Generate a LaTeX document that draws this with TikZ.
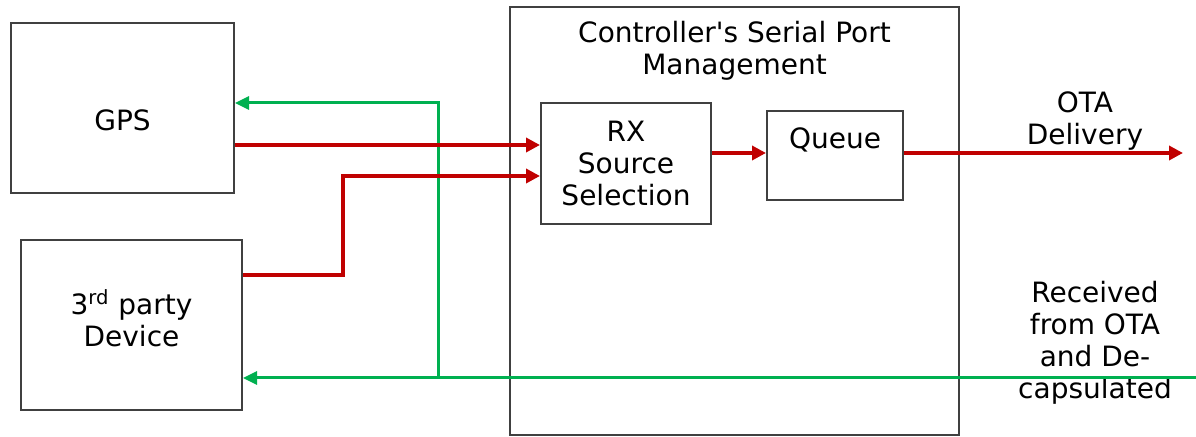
\documentclass[tikz,border=0pt]{standalone}
\usepackage{fontspec}
\setmainfont{DejaVu Sans}[Ligatures=TeXOff]
\usetikzlibrary{positioning, arrows.meta}

\definecolor{txred}{HTML}{C00000}
\definecolor{rxgreen}{HTML}{00B050}
\definecolor{boxgray}{HTML}{404040}

\tikzset{
  blk/.style={draw=boxgray, line width=1pt, fill=white, inner sep=0pt},
  lbl/.style={align=center, font=\fontsize{14pt}{16pt}\selectfont},
  txline/.style={draw=txred, line width=2pt, -{Triangle[length=7pt,width=7pt]}},
  rxline/.style={draw=rxgreen, line width=1.5pt, -{Triangle[length=7pt,width=6.5pt]}}
}

\begin{document}
\begin{tikzpicture}[x=0.5pt, y=-0.5pt]
\useasboundingbox (0,0) rectangle (1196,437);

% boxes
\node[blk, line width=0.75pt, minimum width=224.5pt, minimum height=214pt] (ctrl) at (734.5,221) {};
\node[lbl] (ctrltxt) at (734.5,51) {Controller's Serial Port\\Management};
\node[blk, minimum width=111.5pt, minimum height=85pt] (gps) at (122.5,108) {};
\node[lbl] (gpstxt) at (122.5,120) {GPS};
\node[blk, minimum width=110.5pt, minimum height=85pt] (tp) at (131.5,325) {};
\node[lbl] (tptxt) at (131.5,318) {3\textsuperscript{rd} party\\Device};
\node[blk, lbl, minimum width=85pt, minimum height=60.5pt] (rx) at (626,163.5) {RX\\Source\\Selection};
\node[blk, minimum width=68pt, minimum height=44.5pt] (queue) at (835,155.5) {};
\node[lbl] (queuetxt) at (835,140) {Queue};

% outside labels
\node[lbl] (otaout) at (1085,121) {OTA\\Delivery};
\node[lbl] (otain) at (1095,343) {Received\\from OTA\\and De-\\capsulated};

\coordinate (otaend) at (1183,153);
\coordinate (rxstart) at (1196,378);
\coordinate (bendA) at (343,275);
\coordinate (bendB) at (343,176);
\coordinate (splitA) at (438,378);
\coordinate (splitB) at (438,103);

% receive path
\draw[rxline] (rxstart) -- (tp.east |- rxstart);
\draw[rxline] (splitA) -- (splitB) -- (gps.east |- splitB);

% transmit path
\draw[txline] (gps.east |- 0,145) -- (rx.west |- 0,145);
\draw[txline] (tp.east |- bendA) -- (bendA) -- (bendB) -- (rx.west |- bendB);
\draw[txline] (rx.east |- 0,153) -- (queue.west |- 0,153);
\draw[txline] (queue.east |- otaend) -- (otaend);
\end{tikzpicture}
\end{document}
